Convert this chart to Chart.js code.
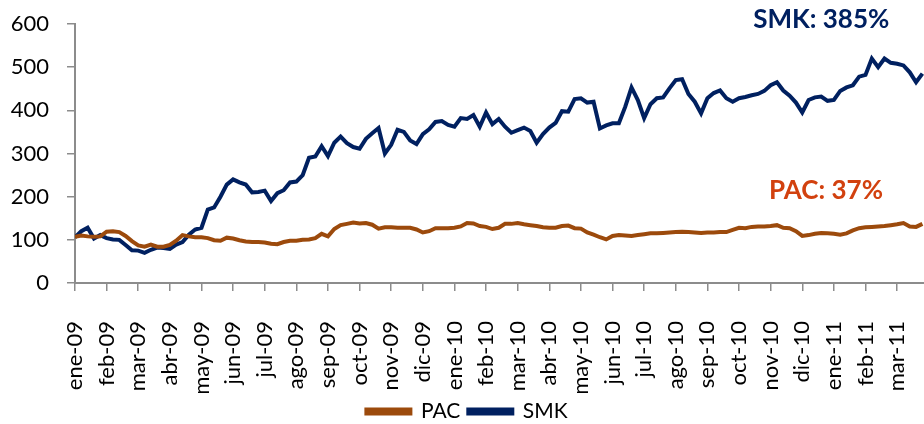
<!DOCTYPE html>
<html>
<head>
<meta charset="utf-8">
<script src="https://cdn.jsdelivr.net/npm/chart.js@4.4.0/dist/chart.umd.min.js"></script>
<style>
  html, body { margin: 0; padding: 0; background: #fff; }
  #wrap { width: 924px; height: 424px; position: relative; }
</style>
</head>
<body>
<div id="wrap"><canvas id="myChart"></canvas></div>
<script>
// months on the x axis (one tick per month)
const months = ['ene-09','feb-09','mar-09','abr-09','may-09','jun-09','jul-09','ago-09','sep-09','oct-09','nov-09','dic-09',
                'ene-10','feb-10','mar-10','abr-10','may-10','jun-10','jul-10','ago-10','sep-10','oct-10','nov-10','dic-10',
                'ene-11','feb-11','mar-11'];

// one sample every 0.2 month, base 100 at start
const step = 0.2;
const smkValues = [106,120,128,103,111,104,101,100,88,76,
                   75,70,77,82,81,79,89,95,112,124,
                   128,170,175,200,228,240,233,228,210,211,
                   214,190,208,215,233,235,250,290,293,317,
                   294,325,339,324,315,311,334,347,359,300,
                   320,355,350,330,322,345,356,373,375,366,
                   362,382,380,389,362,395,368,380,362,348,
                   354,360,352,325,345,360,371,398,397,426,
                   428,418,420,358,365,370,370,408,453,424,
                   382,414,428,430,451,470,472,438,420,393,
                   428,440,446,428,420,428,431,435,438,445,
                   458,465,446,434,418,395,424,430,432,422,
                   424,445,453,458,478,482,520,500,520,510,
                   508,504,488,465,485];
const pacValues = [107,110,108,107,108,119,120,118,109,97,
                   87,84,89,84,84,88,98,111,108,106,
                   106,104,99,98,105,103,99,96,95,95,
                   94,91,90,95,98,98,100,101,104,114,
                   108,125,134,137,140,138,139,135,126,129,
                   129,128,128,128,124,117,120,127,127,127,
                   128,131,139,138,132,130,125,128,137,137,
                   139,136,134,132,129,128,128,132,133,127,
                   126,117,112,106,101,109,111,110,109,111,
                   113,115,115,116,117,118,119,118,117,116,
                   117,117,118,118,123,128,127,130,131,131,
                   132,134,128,127,120,109,111,114,116,115,
                   114,112,115,122,127,129,130,131,132,134,
                   136,139,131,130,137];

const toPoints = vals => vals.map((v, i) => ({x: i * step, y: v}));

const navy = '#002060';
const brown = '#9C4A0C';
const axisGray = '#8C8C8C';
const fontFamily = 'Lato, "Open Sans", sans-serif';

// return labels written over the lines
const callouts = [
    {text: 'SMK: 385%', x: 23.6, y: 610, color: navy},
    {text: 'PAC: 37%', x: 23.75, y: 215, color: '#D2410F'}
];

const calloutPlugin = {
    id: 'callouts',
    afterDatasetsDraw(chart) {
        const {ctx, scales} = chart;
        ctx.save();
        ctx.font = 'bold 26px ' + fontFamily;
        ctx.textAlign = 'center';
        ctx.textBaseline = 'middle';
        callouts.forEach(c => {
            ctx.fillStyle = c.color;
            ctx.fillText(c.text, scales.x.getPixelForValue(c.x), scales.y.getPixelForValue(c.y));
        });
        ctx.restore();
    }
};

const ctx = document.getElementById('myChart');

new Chart(ctx, {
    type: 'line',
    data: {
        datasets: [{
            label: 'PAC',
            data: toPoints(pacValues),
            borderColor: brown,
            backgroundColor: brown,
            borderWidth: 4,
            pointRadius: 0,
            tension: 0
        }, {
            label: 'SMK',
            data: toPoints(smkValues),
            borderColor: navy,
            backgroundColor: navy,
            borderWidth: 4,
            pointRadius: 0,
            tension: 0
        }]
    },
    options: {
        responsive: true,
        maintainAspectRatio: false,
        animation: false,
        layout: {padding: {top: 24, left: 10, right: 0, bottom: -8}},
        plugins: {
            legend: {
                position: 'bottom',
                labels: {
                    color: '#000',
                    font: {family: fontFamily, size: 21},
                    boxWidth: 44,
                    boxHeight: 4,
                    padding: 8
                }
            },
            tooltip: {enabled: false}
        },
        scales: {
            x: {
                type: 'linear',
                min: 0,
                max: 26.85,
                grid: {drawOnChartArea: false, tickLength: 8, color: axisGray, lineWidth: 1.5},
                border: {color: axisGray, width: 2},
                ticks: {
                    stepSize: 1,
                    includeBounds: false,
                    autoSkip: false,
                    maxRotation: 90,
                    minRotation: 90,
                    padding: 30,
                    color: '#000',
                    font: {family: fontFamily, size: 22},
                    callback: v => Number.isInteger(v) ? months[v] : ''
                },
                afterFit(scale) {
                    scale.height = 110;
                    scale.paddingLeft = 0;
                    scale.paddingRight = 0;
                }
            },
            y: {
                min: 0,
                max: 600,
                grid: {drawOnChartArea: false, tickLength: 8, color: axisGray, lineWidth: 1.5},
                border: {color: axisGray, width: 2},
                ticks: {
                    stepSize: 100,
                    padding: 18,
                    color: '#000',
                    font: {family: fontFamily, size: 22}
                },
                afterFit(scale) {
                    scale.width = 65;
                    scale.paddingTop = 0;
                    scale.paddingBottom = 0;
                }
            }
        }
    },
    plugins: [calloutPlugin]
});
</script>
</body>
</html>
